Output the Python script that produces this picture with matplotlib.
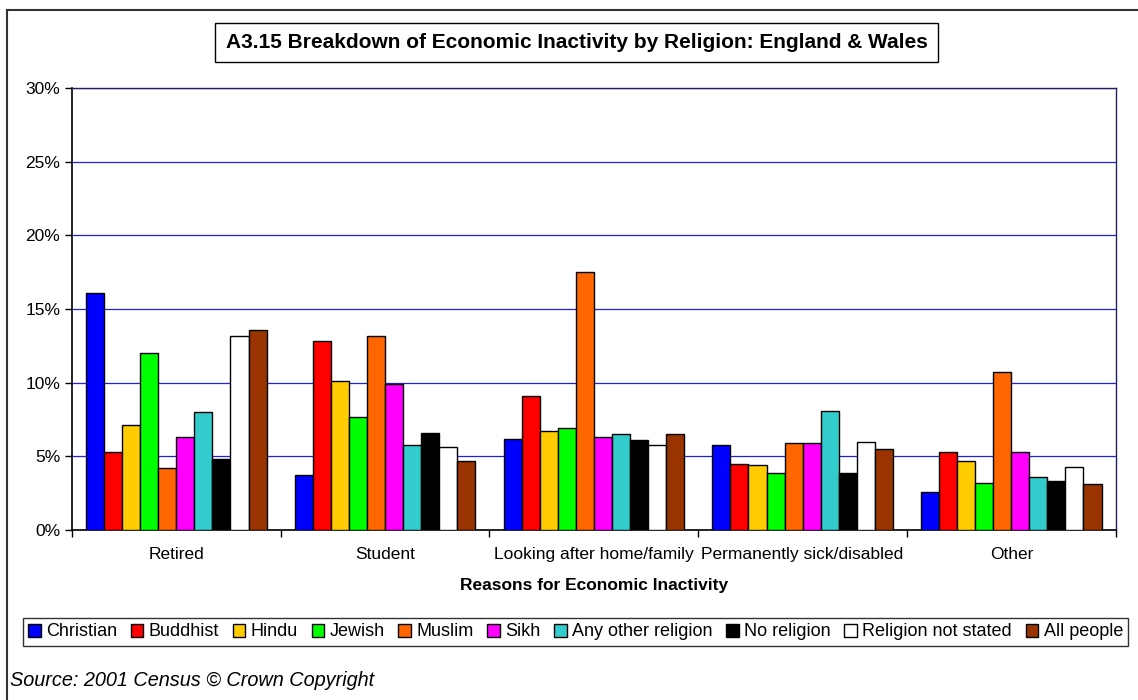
import numpy as np
import matplotlib.pyplot as plt
from matplotlib.lines import Line2D
from matplotlib.ticker import PercentFormatter

plt.rcParams['font.family'] = ['Liberation Sans', 'DejaVu Sans']

categorias = ['Retired', 'Student', 'Looking after home/family',
              'Permanently sick/disabled', 'Other']
religioes = ['Christian', 'Buddhist', 'Hindu', 'Jewish', 'Muslim', 'Sikh',
             'Any other religion', 'No religion', 'Religion not stated',
             'All people']
cores = ['#0000FF', '#FF0000', '#FFCC00', '#00FF00', '#FF6600', '#FF00FF',
         '#33CCCC', '#000000', '#FFFFFF', '#993300']

# percentagens por religiao (uma lista por categoria)
christian = [16.1, 3.7, 6.2, 5.8, 2.6]
buddhist = [5.3, 12.8, 9.1, 4.5, 5.3]
hindu = [7.1, 10.1, 6.7, 4.4, 4.7]
jewish = [12.0, 7.7, 6.9, 3.9, 3.2]
muslim = [4.2, 13.2, 17.5, 5.9, 10.7]
sikh = [6.3, 9.9, 6.3, 5.9, 5.3]
outra = [8.0, 5.8, 6.5, 8.1, 3.6]
sem_religiao = [4.8, 6.6, 6.1, 3.9, 3.3]
nao_declarada = [13.2, 5.6, 5.8, 6.0, 4.3]
todos = [13.6, 4.7, 6.5, 5.5, 3.1]

valores = [christian, buddhist, hindu, jewish, muslim, sikh, outra,
           sem_religiao, nao_declarada, todos]

W, H = 1138, 700
fig = plt.figure(figsize=(W / 100, H / 100), dpi=100)
ax = fig.add_axes([72 / W, (H - 530) / H, (1115.7 - 72) / W, (530 - 88) / H])

x = np.arange(len(categorias))
largura = 0.0864
for i, (nome, serie) in enumerate(zip(religioes, valores)):
    pos = x - largura * 4.5 + i * largura
    ax.bar(pos, serie, largura, color=cores[i], edgecolor='black',
           linewidth=1.0, label=nome, zorder=3)

ax.set_xlim(-0.5, len(categorias) - 0.5)
ax.set_ylim(0, 30)
ax.set_yticks(np.arange(0, 31, 5))
ax.yaxis.set_major_formatter(PercentFormatter(decimals=0))
ax.set_xticks(x)
ax.set_xticklabels(categorias, fontsize=12.5)
ax.set_xticks(np.arange(-0.5, len(categorias), 1), minor=True)
ax.tick_params(axis='x', which='major', length=0, pad=12)
ax.tick_params(axis='x', which='minor', length=5, direction='out', width=1)
ax.tick_params(axis='y', length=5, direction='out', labelsize=12.5, width=1)

# Grade azul
ax.grid(axis='y', color='#2020DD', linewidth=0.9, zorder=0)
for s in ['left', 'bottom']:
    ax.spines[s].set_color('black')
    ax.spines[s].set_linewidth(1.2)
for s in ['top', 'right']:
    ax.spines[s].set_color('#202060')
    ax.spines[s].set_linewidth(1.0)

ax.set_xlabel('Reasons for Economic Inactivity', fontsize=12.5,
              fontweight='bold', labelpad=12)

fig.text(576.5 / W, 1 - 42.5 / H,
         'A3.15 Breakdown of Economic Inactivity by Religion: England & Wales',
         ha='center', va='center', fontsize=15, fontweight='bold',
         bbox=dict(boxstyle='square,pad=0.5', facecolor='white',
                   edgecolor='black', linewidth=1))

leg = fig.legend(loc='center', bbox_to_anchor=(575.5 / W, 1 - 632 / H),
                 ncol=10, fontsize=13, frameon=True, fancybox=False,
                 edgecolor='black', handlelength=0.7, handleheight=0.7,
                 handletextpad=0.3, columnspacing=0.75, borderpad=0.3,
                 borderaxespad=0)
leg.get_frame().set_linewidth(1)

fig.text(10 / W, 1 - 680 / H, 'Source: 2001 Census © Crown Copyright',
         ha='left', va='center', fontsize=14.3, style='italic')

# Moldura externa
fig.add_artist(Line2D([7 / W, 1], [1 - 10 / H, 1 - 10 / H],
                      color='#333333', linewidth=1.5))
fig.add_artist(Line2D([7 / W, 7 / W], [0, 1 - 10 / H],
                      color='#333333', linewidth=1.5))

fig.savefig('out.png', dpi=100)
